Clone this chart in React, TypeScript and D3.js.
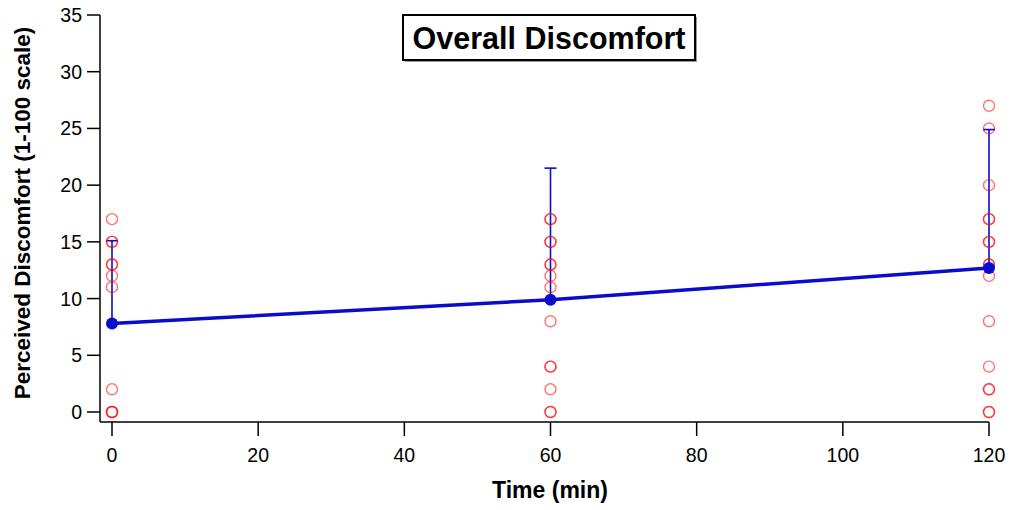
import React from 'react';
import * as d3 from 'd3';

// time points (min)
const times = [0, 60, 120];
// group mean and upper error bar end
const meanDiscomfort = [7.8, 9.9, 12.7];
const errorTop = [15.1, 21.5, 24.9];
// individual ratings (repeats = overlapping circles)
const scoresAt0 = [17, 15, 15, 13, 13, 12, 11, 2, 0, 0, 0];
const scoresAt60 = [17, 17, 15, 15, 13, 13, 12, 11, 8, 4, 4, 2, 0, 0];
const scoresAt120 = [27, 25, 20, 17, 17, 15, 15, 13, 13, 12, 8, 4, 2, 2, 0, 0];
const xTicks = [0, 20, 40, 60, 80, 100, 120];
const yTicks = [0, 5, 10, 15, 20, 25, 30, 35];

const W = 1015;
const H = 510;
const font = 'Liberation Sans, Arial, Helvetica, sans-serif';

export default function App() {
  const x = d3.scaleLinear().domain([0, 120]).range([112, 989]);
  const y = d3.scaleLinear().domain([0, 35]).range([412, 15]);
  const axisX = 100;
  const axisY = 422;
  const blue = '#0b0bcc';

  const line = d3.line<number>()
    .x((d, i) => x(times[i]))
    .y(d => y(d));

  const scoreSets = [scoresAt0, scoresAt60, scoresAt120];

  return (
    <svg width={W} height={H} style={{ position: 'absolute', left: 0, top: 0, background: '#fff' }}
      fontFamily={font}>
      {/* y axis */}
      <line x1={axisX} x2={axisX} y1={y(35)} y2={axisY} stroke="#000" strokeWidth={1.5} />
      {yTicks.map(t => (
        <g key={'y' + t}>
          <line x1={axisX - 13} x2={axisX} y1={y(t)} y2={y(t)} stroke="#000" strokeWidth={1.5} />
          <text x={axisX - 18} y={y(t)} dy="0.36em" textAnchor="end" fontSize={19.5}>{t}</text>
        </g>
      ))}
      {/* x axis */}
      <line x1={axisX} x2={x(120)} y1={axisY} y2={axisY} stroke="#000" strokeWidth={1.5} />
      {xTicks.map(t => (
        <g key={'x' + t}>
          <line x1={x(t)} x2={x(t)} y1={axisY} y2={axisY + 14} stroke="#000" strokeWidth={1.5} />
          <text x={x(t)} y={462} textAnchor="middle" fontSize={19.5}>{t}</text>
        </g>
      ))}
      <text x={550} y={498} textAnchor="middle" fontSize={23} fontWeight="bold">Time (min)</text>
      <text transform={`translate(30,213) rotate(-90)`} textAnchor="middle" fontSize={22.5} fontWeight="bold">
        Perceived Discomfort (1-100 scale)
      </text>

      {/* title box */}
      <rect x={405} y={17} width={292} height={45} fill="#999" />
      <rect x={403} y={15} width={292} height={45} fill="#fff" stroke="#000" strokeWidth={2} />
      <text x={549} y={49} textAnchor="middle" fontSize={30.5} fontWeight="bold">Overall Discomfort</text>

      {/* error bars */}
      {times.map((t, i) => (
        <g key={'e' + t} stroke={blue} strokeWidth={1.6}>
          <line x1={x(t)} x2={x(t)} y1={y(meanDiscomfort[i])} y2={y(errorTop[i])} />
          <line x1={x(t) - 6} x2={x(t) + 6} y1={y(errorTop[i])} y2={y(errorTop[i])} />
        </g>
      ))}

      {/* individual scores */}
      {scoreSets.map((set, i) => set.map((v, j) => (
        <circle key={`s${i}-${j}`} cx={x(times[i])} cy={y(v)} r={5.5} fill="none"
          stroke="#ff0000" strokeOpacity={0.55} strokeWidth={1.4} />
      )))}

      {/* mean line */}
      <path d={line(meanDiscomfort) || ''} fill="none" stroke={blue} strokeWidth={3.5} />
      {times.map((t, i) => (
        <circle key={'m' + t} cx={x(t)} cy={y(meanDiscomfort[i])} r={6} fill={blue} />
      ))}
    </svg>
  );
}
